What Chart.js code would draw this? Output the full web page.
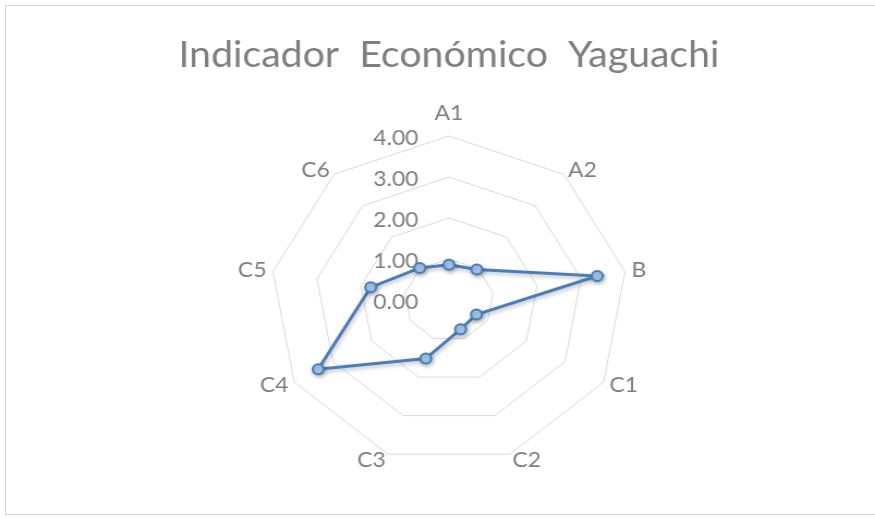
<!DOCTYPE html>
<html>
<head>
<meta charset="utf-8">
<script src="https://cdn.jsdelivr.net/npm/chart.js"></script>
<style>
  html, body { margin: 0; padding: 0; background: #fff; overflow: hidden; }
  #frame { position: absolute; left: 5px; top: 5px; width: 900px; height: 508px; border: 1px solid #d4d4d4; }
  /* el gráfico original está algo estirado a lo ancho */
  #wrap { position: absolute; left: 0; top: 0; width: 803px; height: 518px; transform: scaleX(1.0897); transform-origin: 0 0; }
</style>
</head>
<body>
<div id="frame"></div>
<div id="wrap"><canvas id="radar"></canvas></div>
<script>
// Datos del gráfico
const titulo = 'Indicador  Económico  Yaguachi';
const categorias = ['A1', 'A2', 'B', 'C1', 'C2', 'C3', 'C4', 'C5', 'C6'];
const valores = [0.86, 0.97, 3.37, 0.71, 0.76, 1.52, 3.38, 1.78, 1.02];
const marcas = [0, 1, 2, 3, 4];

const grisTexto = '#7f7f7f';
const azul = '#4a7ebb';
const fuente = '21px Lato';

// Etiquetas del eje (a la izquierda de A1) y de categorías, al estilo Excel
const etiquetas = {
    id: 'etiquetas',
    beforeDatasetsDraw(chart) {
        const r = chart.scales.r;
        const ctx = chart.ctx;
        ctx.save();
        ctx.font = fuente;
        ctx.fillStyle = grisTexto;

        ctx.textAlign = 'right';
        ctx.textBaseline = 'middle';
        marcas.forEach(v => {
            const d = r.getDistanceFromCenterForValue(v);
            ctx.fillText(v.toFixed(2), r.xCenter - 28, r.yCenter - d + 2);
        });

        categorias.forEach((c, i) => {
            const p = r.getPointPosition(i, r.drawingArea + 6);
            const ang = r.getIndexAngle(i);
            const s = Math.sin(ang), co = Math.cos(ang);
            ctx.textAlign = Math.abs(s) < 0.05 ? 'center' : (s > 0 ? 'left' : 'right');
            if (co > 0.95) {
                ctx.textBaseline = 'alphabetic';
                ctx.fillText(c, p.x, p.y - 10);
            } else {
                ctx.textBaseline = 'middle';
                ctx.fillText(c, p.x, p.y);
            }
        });
        ctx.restore();

        // sombra suave para la línea y los puntos
        ctx.save();
        ctx.shadowColor = 'rgba(0, 0, 0, 0.28)';
        ctx.shadowBlur = 4;
        ctx.shadowOffsetX = 1;
        ctx.shadowOffsetY = 2;
    },
    afterDatasetsDraw(chart) {
        chart.ctx.restore();
    }
};

function dibujar() {
    new Chart(document.getElementById('radar'), {
        type: 'radar',
        data: {
            labels: categorias,
            datasets: [{
                data: valores,
                borderColor: azul,
                borderWidth: 3,
                fill: false,
                pointRadius: 5,
                pointBorderWidth: 2,
                pointBackgroundColor: '#a6cbef',
                pointBorderColor: azul
            }]
        },
        options: {
            responsive: true,
            maintainAspectRatio: false,
            animation: false,
            layout: { padding: { top: 10, left: 21, right: 0, bottom: 53 } },
            plugins: {
                legend: { display: false },
                tooltip: { enabled: false },
                title: {
                    display: true,
                    text: titulo,
                    color: grisTexto,
                    font: { family: 'Lato', size: 36, weight: 'normal' },
                    padding: { top: 24, bottom: 59 }
                }
            },
            scales: {
                r: {
                    min: 0,
                    max: 4,
                    ticks: { display: false, stepSize: 1 },
                    angleLines: { display: false },
                    grid: { color: '#d9d9d9', lineWidth: 1 },
                    pointLabels: { display: false }
                }
            }
        },
        plugins: [etiquetas]
    });
}

if (document.fonts && document.fonts.load) {
    document.fonts.load(fuente).then(dibujar, dibujar);
} else {
    dibujar();
}
</script>
</body>
</html>
